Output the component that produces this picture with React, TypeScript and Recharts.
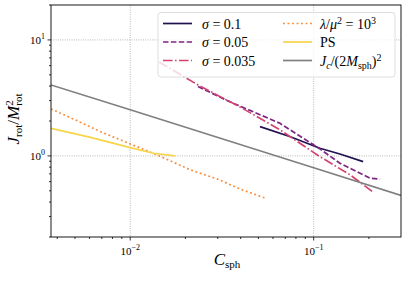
import React from "react";
import { LineChart, Line, XAxis, YAxis, CartesianGrid } from "recharts";

// ── Data (C_sph, J_rot / M_rot^2) ────────────────────────────────────────────

const S010_C = [0.051, 0.074, 0.108, 0.139, 0.186];
const S010_J = [1.79, 1.47, 1.165, 1.04, 0.893];

const S005_C = [0.0234, 0.0351, 0.0655, 0.108, 0.139, 0.179, 0.203, 0.23];
const S005_J = [3.96, 2.92, 1.91, 1.15, 0.865, 0.71, 0.642, 0.63];

const S0035_C = [0.01436, 0.0234, 0.0397, 0.0655, 0.108, 0.158, 0.21];
const S0035_J = [6.46, 4.09, 2.64, 1.68, 0.986, 0.686, 0.49];

const LAM_C = [0.0037, 0.005, 0.007, 0.01, 0.014, 0.0212, 0.03, 0.04, 0.054];
const LAM_J = [2.54, 2.05, 1.6, 1.27, 1.02, 0.76, 0.63, 0.516, 0.435];

const PS_C = [0.0037, 0.006, 0.01, 0.0134, 0.0175];
const PS_J = [1.73, 1.45, 1.18, 1.055, 1.0];

const JC_C = [0.0037, 0.01, 0.1, 0.299];
const JC_J = [4.09, 2.5, 0.79, 0.456];

const X_MAJOR = [0.01, 0.1];
const X_MINOR = [0.004, 0.005, 0.006, 0.007, 0.008, 0.009, 0.02, 0.03, 0.04, 0.05, 0.06, 0.07, 0.08, 0.09, 0.2];
const Y_MAJOR = [1, 10];
const Y_MINOR = [0.2, 0.3, 0.4, 0.5, 0.6, 0.7, 0.8, 0.9, 2, 3, 4, 5, 6, 7, 8, 9, 20];

const X_DOMAIN = [0.0037, 0.2992];
const Y_DOMAIN = [0.2, 20];

const rows = (cs: number[], js: number[]) => cs.map((c, i) => ({ c, j: js[i] }));

const COLORS = {
  s010: "#221150",
  s005: "#7e2482",
  s0035: "#d3436e",
  lam: "#f98e3f",
  ps: "#f6d54a",
  jc: "#808080",
};

const LW = 1.7;
const DASH = "5.5 2.4";
const DASHDOT = "9.6 2.4 1.6 2.4";
const DOTS = "1.9 2.6";

const FONT = '"Liberation Serif", "DejaVu Serif", serif';

// ── Ticks ────────────────────────────────────────────────────────────────────

function XTick({ x, y, payload }: any) {
  const v = payload.value;
  const major = X_MAJOR.includes(v);
  return (
    <g>
      <line x1={x} x2={x} y1={y} y2={y + (major ? 3.5 : 2)} stroke="#000" strokeWidth={0.8} />
      {major && (
        <text x={x} y={y + 18} textAnchor="middle" fontFamily={FONT} fontSize={11} fill="#000">
          10
          <tspan dy={-5} fontSize={8}>
            {"\u2212" + Math.abs(Math.round(Math.log10(v)))}
          </tspan>
        </text>
      )}
    </g>
  );
}

function YTick({ x, y, payload }: any) {
  const v = payload.value;
  const major = Y_MAJOR.includes(v);
  return (
    <g>
      <line x1={x} x2={x - (major ? 3.5 : 2)} y1={y} y2={y} stroke="#000" strokeWidth={0.8} />
      {major && (
        <text x={x - 6} y={y + 4} textAnchor="end" fontFamily={FONT} fontSize={11} fill="#000">
          10
          <tspan dy={-5} fontSize={8}>
            {Math.round(Math.log10(v))}
          </tspan>
        </text>
      )}
    </g>
  );
}

// ── Legend / labels overlay ──────────────────────────────────────────────────

function Overlay() {
  const rowY = [23.5, 42, 60.5];
  return (
    <svg
      width={407}
      height={282}
      style={{ position: "absolute", left: 0, top: 0, pointerEvents: "none" }}
      fontFamily={FONT}
    >
      <rect x={51} y={5} width={350} height={232} fill="none" stroke="#000" strokeWidth={0.9} />

      {/* axis titles */}
      <text x={227} y={265} textAnchor="middle" fontSize={17} fill="#000">
        <tspan fontStyle="italic">C</tspan>
        <tspan dy={3} fontSize={11}>sph</tspan>
      </text>
      <text transform="rotate(-90 19 119)" x={19} y={119} textAnchor="middle" fontSize={17} fill="#000">
        <tspan fontStyle="italic">J</tspan>
        <tspan dy={3} fontSize={11}>rot</tspan>
        <tspan dy={-3}>/</tspan>
        <tspan fontStyle="italic">M</tspan>
        <tspan dy={-6} fontSize={11}>2</tspan>
        <tspan dx={-5.5} dy={9} fontSize={11}>rot</tspan>
      </text>

      {/* legend */}
      <rect x={158} y={12.5} width={237} height={64.5} rx={3} fill="#fff" fillOpacity={0.8} stroke="#d6d6d6" strokeWidth={0.8} />
      <line x1={163} x2={192} y1={rowY[0]} y2={rowY[0]} stroke={COLORS.s010} strokeWidth={LW} />
      <line x1={163} x2={192} y1={rowY[1]} y2={rowY[1]} stroke={COLORS.s005} strokeWidth={LW} strokeDasharray={DASH} />
      <line x1={163} x2={192} y1={rowY[2]} y2={rowY[2]} stroke={COLORS.s0035} strokeWidth={LW} strokeDasharray={DASHDOT} />
      <line x1={283} x2={312} y1={rowY[0]} y2={rowY[0]} stroke={COLORS.lam} strokeWidth={LW} strokeDasharray={DOTS} />
      <line x1={283} x2={312} y1={rowY[1]} y2={rowY[1]} stroke={COLORS.ps} strokeWidth={LW} />
      <line x1={283} x2={312} y1={rowY[2]} y2={rowY[2]} stroke={COLORS.jc} strokeWidth={LW} />

      <text x={202} y={rowY[0] + 5} fontSize={14} fill="#000">
        <tspan fontStyle="italic">σ</tspan> = 0.1
      </text>
      <text x={202} y={rowY[1] + 5} fontSize={14} fill="#000">
        <tspan fontStyle="italic">σ</tspan> = 0.05
      </text>
      <text x={202} y={rowY[2] + 5} fontSize={14} fill="#000">
        <tspan fontStyle="italic">σ</tspan> = 0.035
      </text>
      <text x={320} y={rowY[0] + 5} fontSize={14} fill="#000">
        <tspan fontStyle="italic">λ</tspan>/<tspan fontStyle="italic">μ</tspan>
        <tspan dy={-5} fontSize={10}>2</tspan>
        <tspan dy={5}> = 10</tspan>
        <tspan dy={-5} fontSize={10}>3</tspan>
      </text>
      <text x={320} y={rowY[1] + 5} fontSize={14} fill="#000">
        PS
      </text>
      <text x={320} y={rowY[2] + 5} fontSize={14} fill="#000">
        <tspan fontStyle="italic">J</tspan>
        <tspan dy={3} fontSize={10} fontStyle="italic">c</tspan>
        <tspan dy={-3}>/(2</tspan>
        <tspan fontStyle="italic">M</tspan>
        <tspan dy={3} fontSize={10}>sph</tspan>
        <tspan dy={-3}>)</tspan>
        <tspan dy={-5} fontSize={10}>2</tspan>
      </text>
    </svg>
  );
}

// ── Main export ──────────────────────────────────────────────────────────────

export default function App() {
  return (
    <div style={{ position: "absolute", left: 0, top: 0, width: 407, height: 282, background: "#fff" }}>
      <LineChart width={407} height={282} margin={{ top: 5, right: 6, bottom: 0, left: 0 }}>
        <CartesianGrid
          stroke="#a8a8a8"
          strokeWidth={0.9}
          strokeDasharray="0.9 1.4"
          verticalValues={X_MAJOR}
          horizontalValues={Y_MAJOR}
        />
        <XAxis
          dataKey="c"
          type="number"
          scale="log"
          domain={X_DOMAIN}
          allowDataOverflow
          ticks={[...X_MAJOR, ...X_MINOR]}
          interval={0}
          tick={<XTick />}
          tickLine={false}
          axisLine={false}
          tickSize={0}
          tickMargin={0}
          height={45}
        />
        <YAxis
          type="number"
          scale="log"
          domain={Y_DOMAIN}
          allowDataOverflow
          ticks={[...Y_MAJOR, ...Y_MINOR]}
          interval={0}
          tick={<YTick />}
          tickLine={false}
          axisLine={false}
          tickSize={0}
          tickMargin={0}
          width={51}
        />
        <Line data={rows(S010_C, S010_J)} dataKey="j" stroke={COLORS.s010} strokeWidth={LW} dot={false} isAnimationActive={false} />
        <Line data={rows(S005_C, S005_J)} dataKey="j" stroke={COLORS.s005} strokeWidth={LW} strokeDasharray={DASH} dot={false} isAnimationActive={false} />
        <Line data={rows(S0035_C, S0035_J)} dataKey="j" stroke={COLORS.s0035} strokeWidth={LW} strokeDasharray={DASHDOT} dot={false} isAnimationActive={false} />
        <Line data={rows(LAM_C, LAM_J)} dataKey="j" stroke={COLORS.lam} strokeWidth={LW} strokeDasharray={DOTS} dot={false} isAnimationActive={false} />
        <Line data={rows(PS_C, PS_J)} dataKey="j" stroke={COLORS.ps} strokeWidth={LW} dot={false} isAnimationActive={false} />
        <Line data={rows(JC_C, JC_J)} dataKey="j" stroke={COLORS.jc} strokeWidth={LW} dot={false} isAnimationActive={false} />
      </LineChart>
      <Overlay />
    </div>
  );
}
